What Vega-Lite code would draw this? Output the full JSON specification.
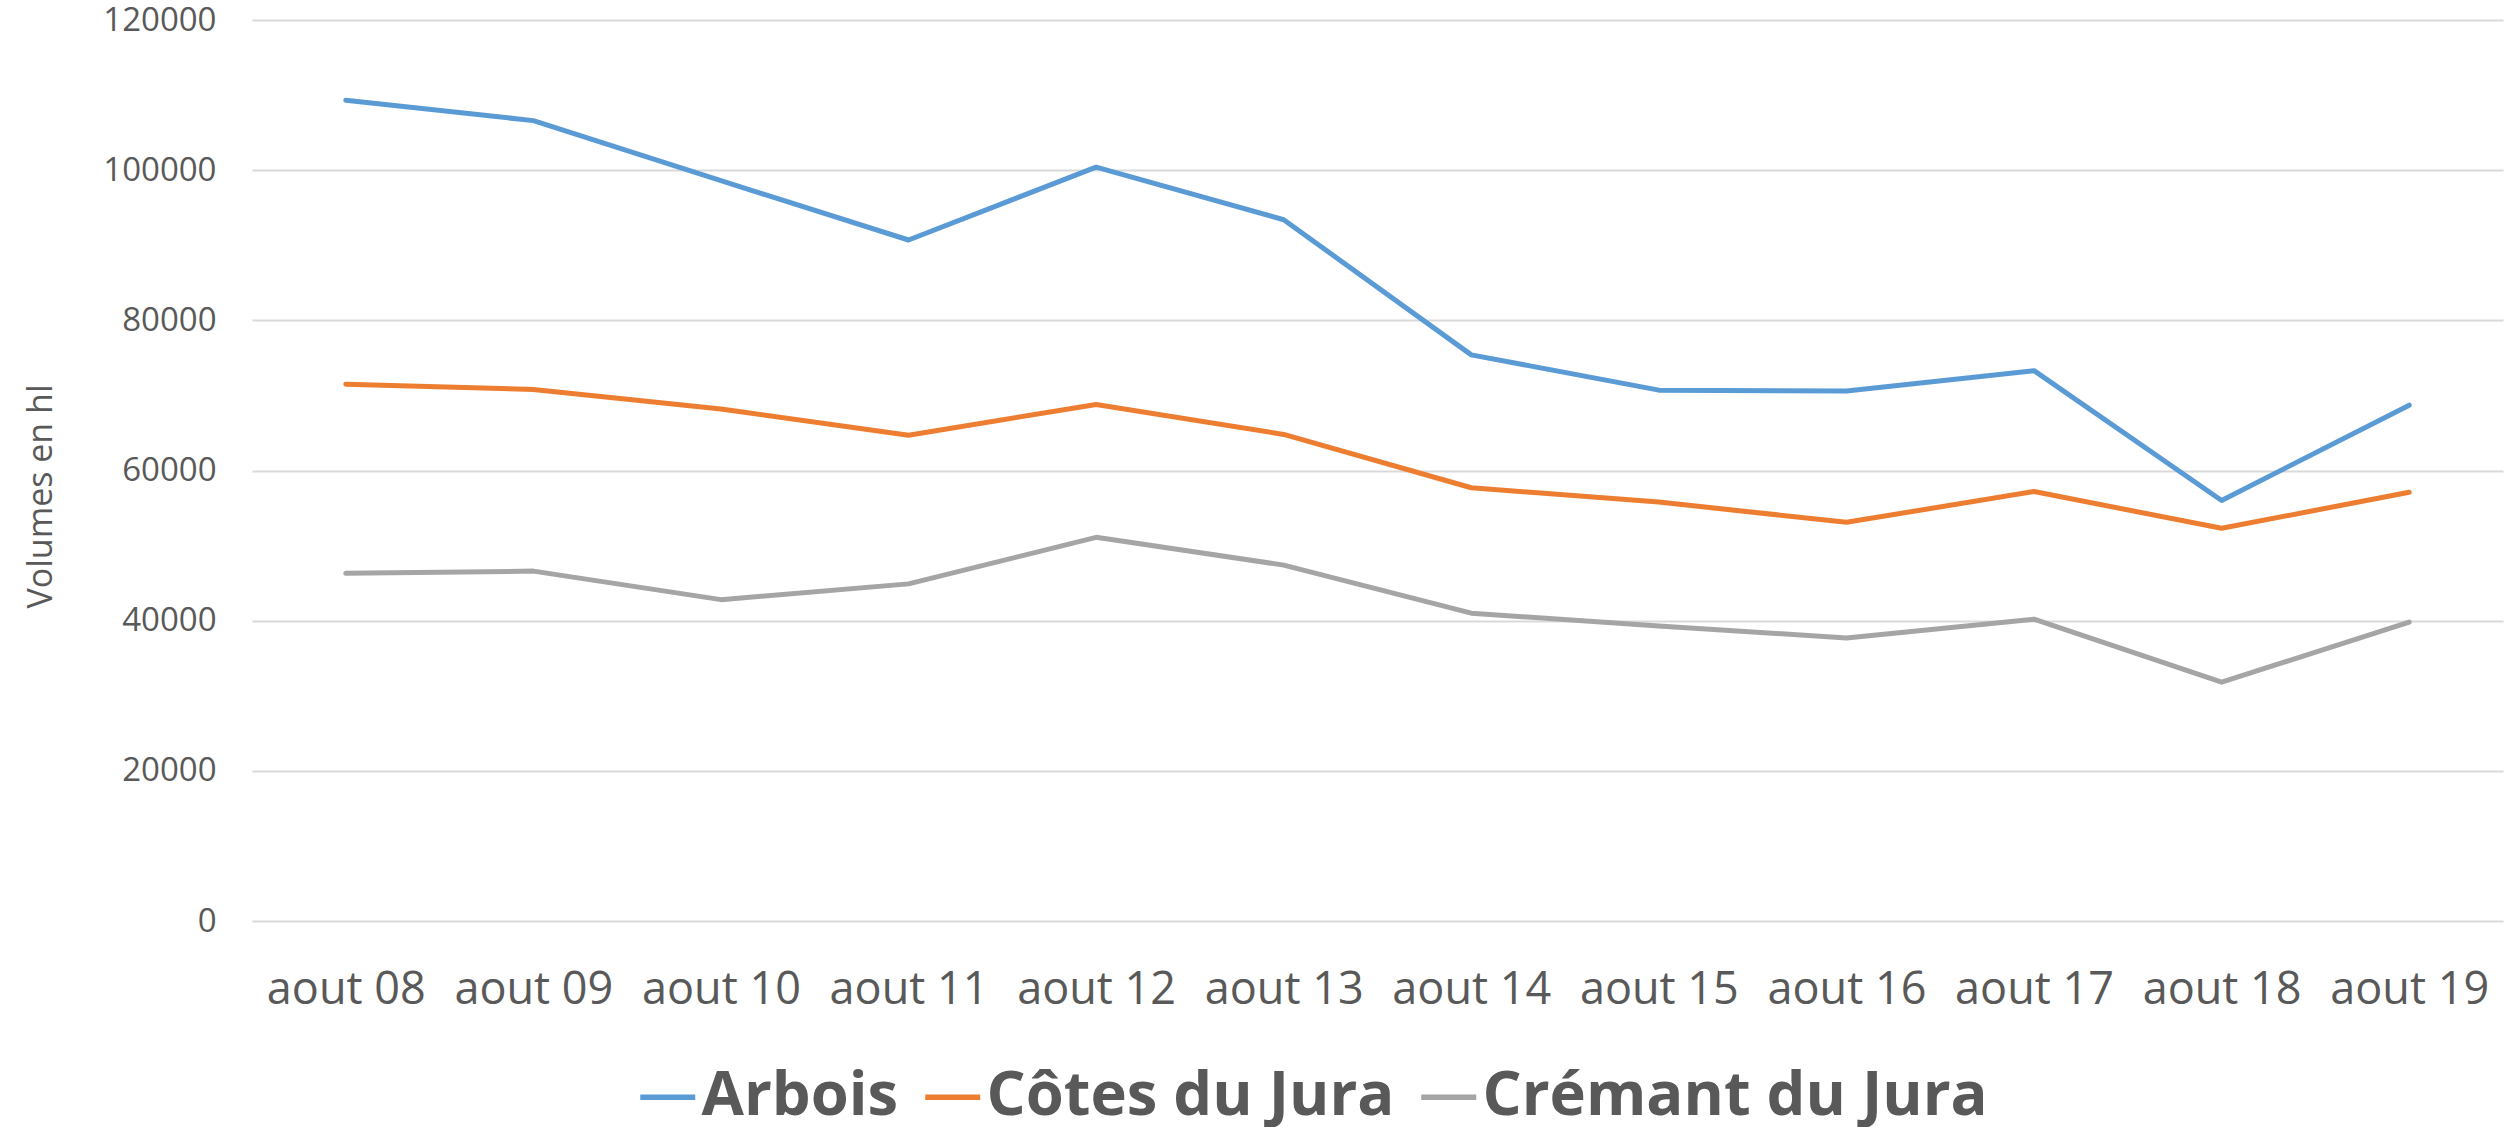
{
  "$schema": "https://vega.github.io/schema/vega-lite/v6.json",
  "width": 2251,
  "height": 901,
  "autosize": {"type": "none"},
  "padding": {"left": 252, "top": 20, "right": 16, "bottom": 206},
  "background": "white",
  "config": {
    "view": {"stroke": null},
    "font": "Open Sans"
  },
  "data": {
    "values": [
      {"mois": "aout 08", "serie": "Arbois", "volume": 109300},
      {"mois": "aout 09", "serie": "Arbois", "volume": 106600},
      {"mois": "aout 10", "serie": "Arbois", "volume": 98600},
      {"mois": "aout 11", "serie": "Arbois", "volume": 90700},
      {"mois": "aout 12", "serie": "Arbois", "volume": 100400},
      {"mois": "aout 13", "serie": "Arbois", "volume": 93400},
      {"mois": "aout 14", "serie": "Arbois", "volume": 75400},
      {"mois": "aout 15", "serie": "Arbois", "volume": 70700},
      {"mois": "aout 16", "serie": "Arbois", "volume": 70600},
      {"mois": "aout 17", "serie": "Arbois", "volume": 73300},
      {"mois": "aout 18", "serie": "Arbois", "volume": 56000},
      {"mois": "aout 19", "serie": "Arbois", "volume": 68700},
      {"mois": "aout 08", "serie": "Côtes du Jura", "volume": 71500},
      {"mois": "aout 09", "serie": "Côtes du Jura", "volume": 70800},
      {"mois": "aout 10", "serie": "Côtes du Jura", "volume": 68200},
      {"mois": "aout 11", "serie": "Côtes du Jura", "volume": 64700},
      {"mois": "aout 12", "serie": "Côtes du Jura", "volume": 68800},
      {"mois": "aout 13", "serie": "Côtes du Jura", "volume": 64800},
      {"mois": "aout 14", "serie": "Côtes du Jura", "volume": 57700},
      {"mois": "aout 15", "serie": "Côtes du Jura", "volume": 55800},
      {"mois": "aout 16", "serie": "Côtes du Jura", "volume": 53100},
      {"mois": "aout 17", "serie": "Côtes du Jura", "volume": 57200},
      {"mois": "aout 18", "serie": "Côtes du Jura", "volume": 52300},
      {"mois": "aout 19", "serie": "Côtes du Jura", "volume": 57100},
      {"mois": "aout 08", "serie": "Crémant du Jura", "volume": 46300},
      {"mois": "aout 09", "serie": "Crémant du Jura", "volume": 46600},
      {"mois": "aout 10", "serie": "Crémant du Jura", "volume": 42800},
      {"mois": "aout 11", "serie": "Crémant du Jura", "volume": 44900},
      {"mois": "aout 12", "serie": "Crémant du Jura", "volume": 51100},
      {"mois": "aout 13", "serie": "Crémant du Jura", "volume": 47400},
      {"mois": "aout 14", "serie": "Crémant du Jura", "volume": 41000},
      {"mois": "aout 15", "serie": "Crémant du Jura", "volume": 39300},
      {"mois": "aout 16", "serie": "Crémant du Jura", "volume": 37700},
      {"mois": "aout 17", "serie": "Crémant du Jura", "volume": 40200},
      {"mois": "aout 18", "serie": "Crémant du Jura", "volume": 31800},
      {"mois": "aout 19", "serie": "Crémant du Jura", "volume": 39800}
    ]
  },
  "mark": {"type": "line", "strokeWidth": 5, "strokeCap": "round", "strokeJoin": "round"},
  "encoding": {
    "x": {
      "field": "mois",
      "type": "ordinal",
      "sort": null,
      "scale": {"type": "point", "padding": 0.5},
      "axis": {
        "title": null,
        "labelAngle": 0,
        "labelFont": "Open Sans",
        "labelFontSize": 45,
        "labelColor": "#595959",
        "labelPadding": 46,
        "ticks": false,
        "domain": false,
        "grid": false
      }
    },
    "y": {
      "field": "volume",
      "type": "quantitative",
      "scale": {"domain": [0, 120000], "nice": false},
      "axis": {
        "title": "Volumes en hl",
        "values": [0, 20000, 40000, 60000, 80000, 100000, 120000],
        "format": "d",
        "labelFont": "Open Sans",
        "labelFontSize": 33,
        "labelColor": "#595959",
        "labelPadding": 36,
        "ticks": false,
        "domain": false,
        "grid": true,
        "gridColor": "#D9D9D9",
        "gridWidth": 2,
        "titleFont": "Open Sans",
        "titleFontSize": 34,
        "titleFontWeight": "normal",
        "titleColor": "#595959",
        "titleAngle": 270,
        "titleAlign": "center",
        "titleBaseline": "middle",
        "titleX": -211,
        "titleY": 476
      }
    },
    "color": {
      "field": "serie",
      "type": "nominal",
      "scale": {
        "domain": ["Arbois", "Côtes du Jura", "Crémant du Jura"],
        "range": ["#5B9BD5", "#ED7D31", "#A5A5A5"]
      },
      "legend": {
        "title": null,
        "orient": "none",
        "direction": "horizontal",
        "legendX": 385,
        "legendY": 1046,
        "padding": 0,
        "symbolType": "stroke",
        "symbolSize": 3025,
        "symbolStrokeWidth": 5.5,
        "labelFont": "Open Sans",
        "labelFontSize": 61.5,
        "labelFontWeight": "bold",
        "labelColor": "#595959",
        "labelOffset": 3,
        "columnPadding": 15,
        "labelLimit": 1000
      }
    }
  }
}
